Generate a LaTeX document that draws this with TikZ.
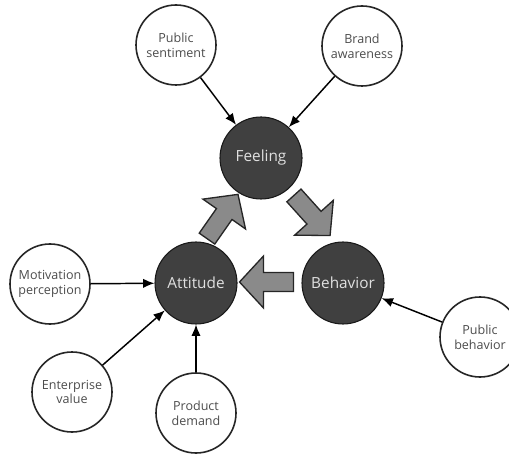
\documentclass[tikz,border=0pt]{standalone}
\usepackage{fontspec}
\setmainfont{Open Sans}
\usetikzlibrary{arrows.meta, calc}

\definecolor{darkball}{HTML}{404040}
\definecolor{blockgray}{HTML}{8A8A8A}

\begin{document}
\begin{tikzpicture}[x=0.75pt, y=0.75pt,
		factor/.style={circle, draw=black!85, line width=1.2pt, fill=white, minimum size=60pt, inner sep=0pt, align=center, text=black!70, font=\fontsize{9.4}{11}\selectfont},
		stage/.style={circle, draw=black!90, line width=0.8pt, fill=darkball, minimum size=61.5pt, inner sep=0pt, text=black!12, font=\fontsize{11.5}{13}\selectfont},
		link/.style={line width=1.1pt, -{Latex[length=8.5pt,width=7pt]}},
		arrowfill/.style={fill=blockgray, draw=black!85, line width=1pt, line join=miter},
		bigarrow/.pic={
			\draw[arrowfill] (-27,-9.5) -- (3,-9.5) -- (3,-26) -- (27,0) -- (3,26) -- (3,9.5) -- (-27,9.5) -- cycle;
		}]
		\useasboundingbox (0,0) rectangle (509,453);
		\clip (0,0) rectangle (509,453);
		%
		% the three stages
		\node[stage] (feel) at (261,295) {Feeling};
		\node[stage] (att) at (196,170) {Attitude};
		\node[stage] (beh) at (343,170) {Behavior};
		%
		% big arrows of the cycle
		\pic[rotate=55] at ($(att)!0.5!(feel)+(-6,4)$) {bigarrow};
		\pic[rotate=-48] at ($(feel)!0.5!(beh)+(10,5)$) {bigarrow};
		\pic[rotate=180] at ($(beh)!0.5!(att)+(-3,1)$) {bigarrow};
		%
		% outer factors
		\node[factor] (sent) at (176,408) {Public\\sentiment};
		\node[factor] (brand) at (362,407) {Brand\\awareness};
		\node[factor] (motiv) at (50,169) {Motivation\\perception};
		\node[factor] (enter) at (72,61) {Enterprise\\value};
		\node[factor] (prod) at (196,40) {Product\\demand};
		\node[factor] (pubbeh) at (480,116) {Public\\behavior};
		%
		%
		\draw[link] (sent) -- (feel);
		\draw[link] (brand) -- (feel);
		\draw[link] (motiv) -- (att);
		\draw[link] (enter) -- (att);
		\draw[link] (prod) -- (att);
		\draw[link] (pubbeh) -- (beh);
	\end{tikzpicture}
\end{document}
